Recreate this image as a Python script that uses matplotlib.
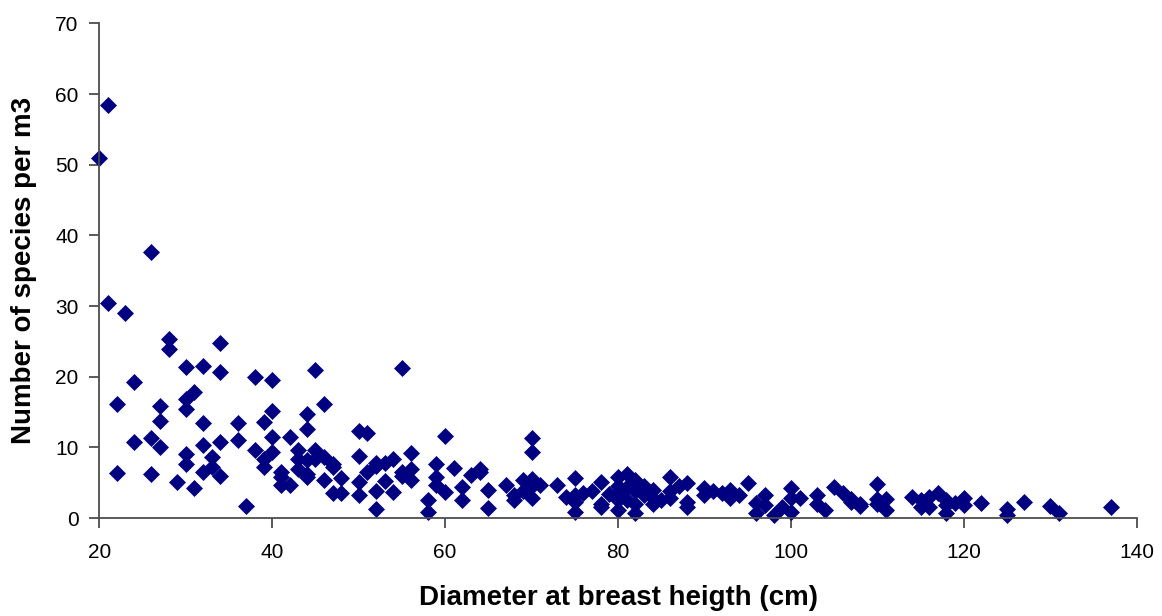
import matplotlib

matplotlib.use("Agg")
import matplotlib.pyplot as plt

plt.rcParams["font.family"] = ["Liberation Sans", "DejaVu Sans"]

# diameter at breast height (cm) and number of species per m3
dbh = [
    20, 21, 21, 23, 26, 28, 28, 34, 24, 30, 32, 34, 38, 40,
    22, 27, 27, 31, 30, 30, 32, 36, 39, 40,
    24, 26, 27, 32, 34, 36, 38, 40, 40, 39, 39, 42,
    30, 30, 33, 32, 33, 34, 22, 26, 29, 31, 37, 41, 41,
    45, 55, 46, 44, 44, 50, 51, 60, 43, 45, 43, 46, 47, 50, 54, 56, 56, 59, 61,
    41, 42, 44, 46, 48, 47, 48, 50, 50, 52, 52, 52, 54, 55, 56, 59, 59,
    58, 58, 60, 62, 62, 64,
    43, 44, 45, 44, 47, 51, 53, 53, 55, 52,
    70, 70, 64, 63, 65, 65, 67, 68, 69, 70, 71, 73, 75, 75, 74, 78, 78,
    80, 80, 81, 82,
    69, 70, 70, 76, 77, 75, 75, 79, 78, 80, 80, 80, 81, 81, 82, 82, 82,
    83, 83, 84, 84, 68,
    95, 98, 100, 100, 105, 86, 88, 96, 104,
    86, 86, 88, 88, 90, 90, 91, 92, 93, 93, 94, 96, 97, 97, 99, 100, 101,
    103, 103, 106, 107, 108, 85, 87, 84,
    110, 111, 114, 117, 118, 120, 122, 125, 125, 127, 130, 131, 137, 108,
    107, 110, 111, 115, 115, 116, 116, 118, 118, 119, 120, 110,
]
species = [
    51.0, 58.5, 30.4, 29.0, 37.6, 25.3, 23.9, 24.7, 19.2, 21.4, 21.5, 20.7, 20.0, 19.5,
    16.2, 15.9, 13.8, 17.9, 16.9, 15.5, 13.5, 13.4, 13.6, 15.1,
    10.7, 11.3, 10.0, 10.4, 10.8, 11.0, 9.7, 11.5, 9.4, 8.4, 7.2, 11.5,
    9.0, 7.7, 8.7, 6.5, 7.2, 5.9, 6.4, 6.2, 5.1, 4.3, 1.7, 6.5, 4.7,
    21.0, 21.3, 16.1, 14.7, 12.6, 12.3, 12.1, 11.6, 9.6, 9.6, 8.4, 8.7, 7.7, 8.8, 8.4, 9.2, 7.0, 7.7, 7.1,
    5.8, 4.7, 5.8, 5.4, 5.6, 3.5, 3.5, 5.1, 3.2, 7.3, 3.8, 1.3, 3.7, 6.5, 5.4, 5.8, 4.7,
    2.5, 0.9, 3.7, 4.4, 2.5, 6.5,
    7.0, 8.2, 8.3, 6.3, 7.2, 6.5, 7.8, 5.3, 6.0, 7.8,
    11.3, 9.3, 7.0, 6.1, 4.0, 1.4, 4.7, 2.5, 5.4, 2.8, 4.7, 4.7, 5.6, 0.9, 3.0, 5.1, 1.6,
    5.8, 1.1, 6.3, 0.7,
    3.8, 4.5, 5.5, 3.5, 3.8, 3.3, 2.3, 3.4, 2.0, 4.5, 3.5, 2.5, 4.4, 2.5, 5.4, 3.8, 2.0,
    4.5, 3.2, 2.8, 2.0, 3.3,
    5.0, 0.4, 4.2, 0.9, 4.4, 5.8, 4.9, 0.7, 1.1,
    3.8, 2.9, 2.3, 1.5, 4.3, 3.2, 3.8, 3.5, 3.9, 2.9, 3.2, 2.2, 3.2, 1.8, 1.5, 2.8, 2.9,
    3.2, 2.0, 3.5, 2.7, 2.0, 2.5, 4.6, 4.0,
    4.75, 1.1, 3.0, 3.5, 0.65, 2.8, 2.1, 1.35, 0.4, 2.3, 1.75, 0.75, 1.6, 1.7,
    2.3, 2.7, 2.7, 2.5, 1.6, 3.0, 1.6, 2.6, 1.8, 2.2, 1.8, 2.0,
]

x_ticks = [20, 40, 60, 80, 100, 120, 140]
y_ticks = [0, 10, 20, 30, 40, 50, 60, 70]

fig = plt.figure(figsize=(11.62, 6.16), dpi=100)
ax = fig.add_axes([0.0855, 0.159, 0.8927, 0.8031])

ax.plot(dbh, species, linestyle="none", marker="D", markersize=8.3,
        color="#000080", markeredgecolor="#000080", markeredgewidth=0.5,
        clip_on=False)

ax.set_xlim(20, 140)
ax.set_ylim(0, 70)
ax.set_xticks(x_ticks)
ax.set_yticks(y_ticks)

for side in ("top", "right"):
    ax.spines[side].set_visible(False)
for side in ("left", "bottom"):
    ax.spines[side].set_color("#4d4d4d")
    ax.spines[side].set_linewidth(1.3)

ax.tick_params(axis="both", direction="out", length=7, width=1.3,
               color="#4d4d4d", labelsize=15, labelcolor="black")
ax.tick_params(axis="x", pad=11)
ax.tick_params(axis="y", pad=8)

ax.set_xlabel("Diameter at breast heigth (cm)", fontsize=20, fontweight="bold")
ax.set_ylabel("Number of species per m3", fontsize=20, fontweight="bold")
ax.xaxis.set_label_coords(0.5, -0.136)
ax.yaxis.set_label_coords(-0.060, 0.5)

fig.savefig("out.png", dpi=100)
